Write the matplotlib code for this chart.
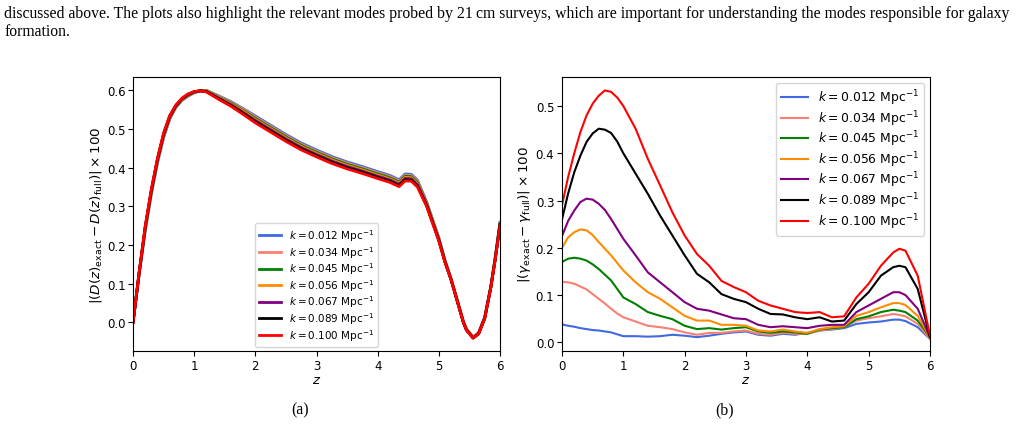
import numpy as np
import matplotlib
matplotlib.use("Agg")
import matplotlib.pyplot as plt

# k values and line colours
k_labels = ["0.012", "0.034", "0.045", "0.056", "0.067", "0.089", "0.100"]
colors = ["royalblue", "salmon", "green", "darkorange", "purple", "black", "red"]

# panel (a): growth factor differences
z_a = [0, 0.1, 0.2, 0.3, 0.4, 0.5, 0.6, 0.7, 0.8, 0.9, 1.0, 1.1, 1.2, 1.4, 1.6, 1.8,
       2.0, 2.25, 2.5, 2.75, 3.0, 3.25, 3.5, 3.75, 4.0, 4.2, 4.35, 4.45, 4.55, 4.65,
       4.8, 5.0, 5.1, 5.2, 5.3, 5.4, 5.45, 5.56, 5.65, 5.75, 5.85, 5.92, 6.0]
D_012 = [0.0, 0.124, 0.238, 0.333, 0.413, 0.478, 0.526, 0.556, 0.574, 0.585, 0.594, 0.599, 0.600,
         0.586, 0.571, 0.553, 0.534, 0.510, 0.486, 0.464, 0.446, 0.429, 0.415, 0.403, 0.390,
         0.380, 0.369, 0.384, 0.383, 0.368, 0.312, 0.219, 0.161, 0.113, 0.058, 0.003, -0.017,
         -0.038, -0.027, 0.013, 0.093, 0.166, 0.259]
D_034 = [0.0, 0.125, 0.240, 0.335, 0.415, 0.480, 0.527, 0.557, 0.575, 0.586, 0.594, 0.599, 0.600,
         0.585, 0.569, 0.551, 0.531, 0.507, 0.483, 0.461, 0.443, 0.426, 0.412, 0.400, 0.387,
         0.377, 0.366, 0.381, 0.380, 0.365, 0.310, 0.217, 0.160, 0.113, 0.058, 0.003, -0.017,
         -0.038, -0.027, 0.012, 0.092, 0.165, 0.257]
D_045 = [0.0, 0.126, 0.242, 0.337, 0.417, 0.482, 0.529, 0.558, 0.576, 0.587, 0.595, 0.599, 0.599,
         0.583, 0.567, 0.548, 0.528, 0.504, 0.480, 0.458, 0.440, 0.423, 0.409, 0.397, 0.384,
         0.374, 0.363, 0.378, 0.377, 0.362, 0.308, 0.216, 0.159, 0.112, 0.057, 0.002, -0.018,
         -0.039, -0.028, 0.012, 0.092, 0.164, 0.256]
D_056 = [0.0, 0.127, 0.244, 0.339, 0.419, 0.484, 0.531, 0.559, 0.577, 0.588, 0.596, 0.599, 0.598,
         0.582, 0.565, 0.546, 0.525, 0.501, 0.477, 0.455, 0.437, 0.420, 0.406, 0.394, 0.381,
         0.371, 0.360, 0.375, 0.374, 0.359, 0.306, 0.215, 0.158, 0.112, 0.057, 0.002, -0.018,
         -0.039, -0.029, 0.011, 0.091, 0.163, 0.255]
D_067 = [0.0, 0.128, 0.246, 0.341, 0.421, 0.486, 0.532, 0.560, 0.578, 0.589, 0.596, 0.599, 0.597,
         0.580, 0.563, 0.543, 0.522, 0.498, 0.474, 0.452, 0.434, 0.417, 0.403, 0.391, 0.378,
         0.368, 0.357, 0.372, 0.371, 0.356, 0.304, 0.213, 0.157, 0.111, 0.056, 0.001, -0.019,
         -0.040, -0.029, 0.011, 0.091, 0.162, 0.253]
D_089 = [0.0, 0.129, 0.248, 0.343, 0.423, 0.488, 0.534, 0.561, 0.579, 0.590, 0.597, 0.599, 0.597,
         0.579, 0.561, 0.541, 0.519, 0.495, 0.471, 0.449, 0.431, 0.414, 0.400, 0.388, 0.375,
         0.365, 0.354, 0.369, 0.368, 0.353, 0.302, 0.212, 0.156, 0.110, 0.055, 0.0, -0.020,
         -0.041, -0.030, 0.010, 0.090, 0.161, 0.252]
D_100 = [0.0, 0.130, 0.250, 0.345, 0.425, 0.490, 0.535, 0.562, 0.580, 0.591, 0.597, 0.599, 0.596,
         0.577, 0.559, 0.538, 0.516, 0.492, 0.468, 0.446, 0.428, 0.411, 0.397, 0.385, 0.372,
         0.362, 0.351, 0.366, 0.365, 0.350, 0.300, 0.210, 0.155, 0.110, 0.055, 0.0, -0.020,
         -0.041, -0.030, 0.010, 0.090, 0.160, 0.250]

# panel (b): growth index differences
z_b = [0, 0.1, 0.2, 0.3, 0.4, 0.5, 0.6, 0.7, 0.8, 0.9, 1.0, 1.2, 1.4, 1.6, 1.8, 2.0, 2.2,
       2.4, 2.6, 2.8, 3.0, 3.2, 3.4, 3.6, 3.8, 4.0, 4.2, 4.4, 4.6, 4.8, 5.0, 5.2, 5.4,
       5.5, 5.6, 5.8, 6.0]
g_012 = [0.038, 0.035, 0.033, 0.030, 0.028, 0.026, 0.025, 0.023, 0.021, 0.017, 0.013,
         0.013, 0.012, 0.013, 0.016, 0.014, 0.011, 0.014, 0.018, 0.021, 0.023, 0.016, 0.014,
         0.018, 0.016, 0.020, 0.025, 0.027, 0.030, 0.039, 0.042, 0.044, 0.048,
         0.048, 0.045, 0.032, 0.007]
g_034 = [0.128, 0.127, 0.124, 0.118, 0.112, 0.102, 0.092, 0.082, 0.071, 0.061, 0.053,
         0.044, 0.035, 0.032, 0.028, 0.021, 0.016, 0.020, 0.020, 0.023, 0.025, 0.018, 0.016,
         0.020, 0.018, 0.018, 0.025, 0.028, 0.032, 0.046, 0.051, 0.055, 0.060,
         0.058, 0.055, 0.039, 0.007]
g_045 = [0.170, 0.177, 0.179, 0.177, 0.173, 0.165, 0.155, 0.143, 0.131, 0.113, 0.095,
         0.081, 0.064, 0.056, 0.049, 0.035, 0.028, 0.030, 0.027, 0.030, 0.032, 0.023, 0.020,
         0.023, 0.021, 0.018, 0.027, 0.030, 0.032, 0.049, 0.055, 0.064, 0.069,
         0.067, 0.064, 0.046, 0.011]
g_056 = [0.200, 0.222, 0.233, 0.239, 0.237, 0.227, 0.212, 0.198, 0.184, 0.168, 0.152,
         0.127, 0.106, 0.092, 0.074, 0.056, 0.046, 0.046, 0.037, 0.037, 0.035, 0.025, 0.023,
         0.027, 0.023, 0.020, 0.028, 0.032, 0.034, 0.056, 0.064, 0.074, 0.083,
         0.083, 0.079, 0.056, 0.011]
g_067 = [0.225, 0.257, 0.279, 0.297, 0.304, 0.302, 0.293, 0.280, 0.261, 0.240, 0.219,
         0.184, 0.148, 0.127, 0.106, 0.085, 0.071, 0.067, 0.059, 0.051, 0.049, 0.037, 0.032,
         0.034, 0.032, 0.030, 0.035, 0.037, 0.037, 0.064, 0.078, 0.092, 0.106,
         0.106, 0.100, 0.071, 0.011]
g_089 = [0.260, 0.315, 0.360, 0.395, 0.424, 0.442, 0.452, 0.450, 0.443, 0.425, 0.400,
         0.357, 0.314, 0.268, 0.226, 0.184, 0.145, 0.127, 0.102, 0.092, 0.085, 0.071, 0.060,
         0.059, 0.053, 0.049, 0.053, 0.044, 0.046, 0.081, 0.106, 0.141, 0.159,
         0.162, 0.159, 0.113, 0.011]
g_100 = [0.290, 0.350, 0.400, 0.445, 0.480, 0.505, 0.522, 0.533, 0.530, 0.518, 0.500,
         0.452, 0.388, 0.332, 0.275, 0.226, 0.187, 0.162, 0.130, 0.117, 0.106, 0.088, 0.078,
         0.071, 0.064, 0.062, 0.064, 0.053, 0.055, 0.095, 0.124, 0.162, 0.190,
         0.198, 0.194, 0.141, 0.014]

D_all = [D_012, D_034, D_045, D_056, D_067, D_089, D_100]
g_all = [g_012, g_034, g_045, g_056, g_067, g_089, g_100]

fig = plt.figure(figsize=(10.25, 4.27), dpi=100)

# surrounding paper text
serif = "Liberation Serif"
body = 11.3
fig.text(0.004, 1 - 14 / 427,
         "discussed above. The plots also highlight the relevant modes probed by 21\u2009cm surveys, "
         "which are important for understanding the modes responsible for galaxy",
         family=serif, fontsize=body, va="center", ha="left")
fig.text(0.004, 1 - 32 / 427, "formation.", family=serif, fontsize=body, va="center", ha="left")
fig.text(300 / 1025, 1 - 410 / 427, "(a)", family=serif, fontsize=body, va="center", ha="center")
fig.text(725 / 1025, 1 - 410 / 427, "(b)", family=serif, fontsize=body, va="center", ha="center")

ax1 = fig.add_axes([0.1298, 0.1756, 0.358, 0.6417])
ax2 = fig.add_axes([0.5483, 0.1756, 0.359, 0.6417])

for kl, c, d in zip(k_labels, colors, D_all):
    ax1.plot(z_a, d, color=c, lw=2.0, label=r"$k = %s$ Mpc$^{-1}$" % kl)
for kl, c, g in zip(k_labels, colors, g_all):
    ax2.plot(z_b, g, color=c, lw=1.5, label=r"$k = %s$ Mpc$^{-1}$" % kl)

ax1.set_xlim(0, 6)
ax1.set_ylim(-0.0743, 0.6347)
ax1.set_yticks([0.0, 0.1, 0.2, 0.3, 0.4, 0.5, 0.6])
ax1.set_xlabel("$z$", fontsize=9.5, labelpad=1)
ax1.set_ylabel(r"$|(D(z)_{\rm exact} - D(z)_{\rm full})| \times 100$", fontsize=9.7, labelpad=2)
ax1.legend(loc="lower center", fontsize=7.5, handlelength=2.1, labelspacing=0.08,
           borderaxespad=0.4, borderpad=0.4)

ax2.set_xlim(0, 6)
ax2.set_ylim(-0.0184, 0.5614)
ax2.set_yticks([0.0, 0.1, 0.2, 0.3, 0.4, 0.5])
ax2.set_xlabel("$z$", fontsize=9.5, labelpad=1)
ax2.set_ylabel(r"$|(\gamma_{\rm exact} - \gamma_{\rm full})| \times 100$", fontsize=9.7, labelpad=2)
ax2.legend(loc="upper right", fontsize=8.9, handlelength=2.2, labelspacing=0.08,
           borderaxespad=0.45, borderpad=0.4)

for ax in (ax1, ax2):
    ax.tick_params(labelsize=8.5, length=3.5, width=0.8, pad=2)

fig.savefig("out.png", dpi=100)
